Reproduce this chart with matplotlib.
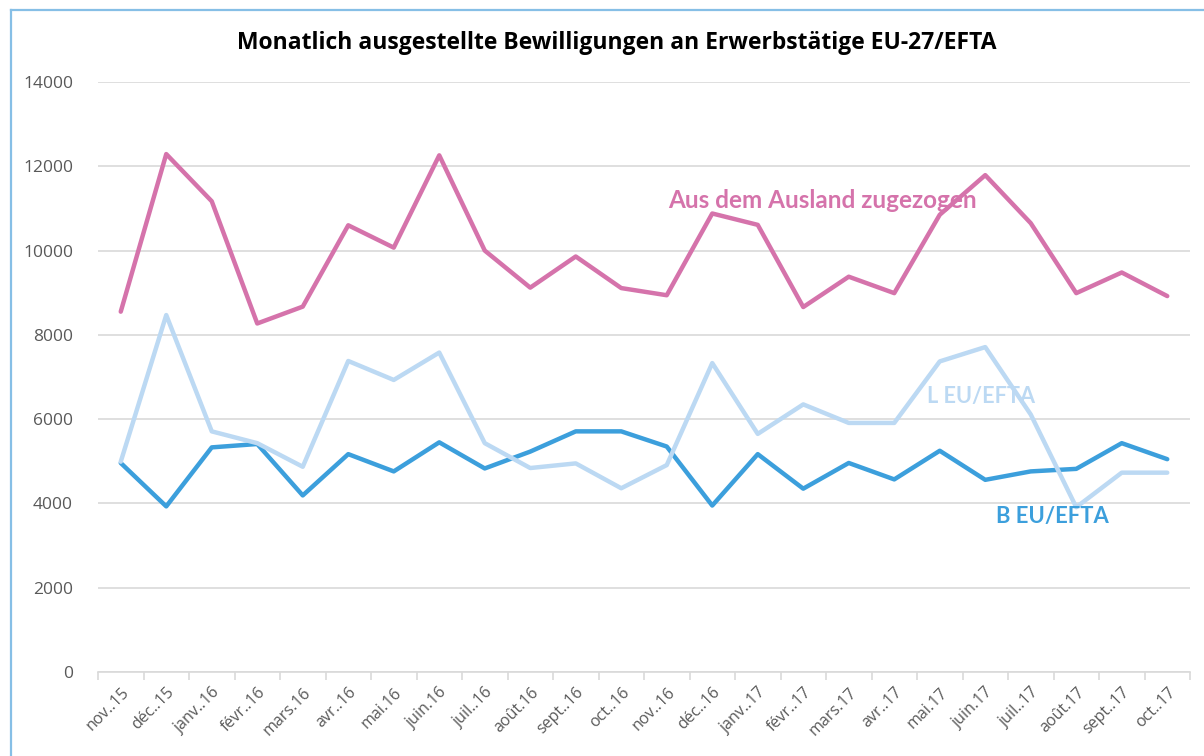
import matplotlib
matplotlib.use("Agg")
import matplotlib.pyplot as plt
from matplotlib.lines import Line2D

months = ["nov..15", "déc..15", "janv..16", "févr..16", "mars.16", "avr..16",
          "mai.16", "juin.16", "juil..16", "août.16", "sept..16", "oct..16",
          "nov..16", "déc..16", "janv..17", "févr..17", "mars.17", "avr..17",
          "mai.17", "juin.17", "juil..17", "août.17", "sept..17", "oct..17"]

ausland = [8550, 12290, 11170, 8270, 8670, 10600, 10070, 12260, 10000, 9120,
           9860, 9110, 8940, 10880, 10610, 8660, 9380, 8990, 10850, 11790,
           10650, 8990, 9480, 8920]
l_eu = [4990, 8470, 5710, 5430, 4870, 7380, 6930, 7580, 5430, 4840,
        4950, 4360, 4910, 7330, 5650, 6350, 5910, 5910, 7370, 7710,
        6110, 3910, 4730, 4730]
b_eu = [4960, 3930, 5330, 5410, 4190, 5170, 4760, 5450, 4830, 5230,
        5710, 5710, 5350, 3950, 5170, 4350, 4960, 4570, 5250, 4560,
        4760, 4820, 5430, 5050]

yticks = [0, 2000, 4000, 6000, 8000, 10000, 12000, 14000]

title = "Monatlich ausgestellte Bewilligungen an Erwerbstätige EU-27/EFTA"

c_pink = "#D573AB"
c_light = "#BCD9F3"
c_blue = "#3C9FDC"
c_grid = "#D9D9D9"
c_text = "#595959"

W, H = 1204, 756
fig = plt.figure(figsize=(W / 100, H / 100), dpi=100)
fig.patch.set_facecolor("white")

ax = fig.add_axes([98 / W, (H - 672) / H, (1190 - 98) / W, (672 - 82) / H])
x = list(range(len(months)))

common = dict(lw=3.2, solid_joinstyle="round", solid_capstyle="round")
ax.plot(x, b_eu, color=c_blue, zorder=3, **common)
ax.plot(x, l_eu, color=c_light, zorder=4, **common)
ax.plot(x, ausland, color=c_pink, zorder=5, **common)

ax.set_xlim(-0.5, len(months) - 0.5)
ax.set_ylim(0, 14000)
ax.set_yticks(yticks)
ax.set_yticklabels([str(v) for v in yticks], fontsize=12.5, color=c_text,
                   family="Open Sans")
ax.yaxis.grid(True, color=c_grid, lw=1.2, zorder=0)
ax.set_axisbelow(True)
ax.tick_params(axis="y", length=0, pad=18)

# category ticks between categories
ax.set_xticks([i - 0.5 for i in range(len(months) + 1)], minor=True)
ax.set_xticks(x)
ax.set_xticklabels(months, rotation=45, ha="right", rotation_mode="anchor",
                   fontsize=11.5, color=c_text, family="Open Sans")
ax.tick_params(axis="x", which="major", length=0, pad=9)
ax.tick_params(axis="x", which="minor", length=6, width=1.2, color=c_grid)

for s in ["top", "right", "left"]:
    ax.spines[s].set_visible(False)
ax.spines["bottom"].set_color(c_grid)
ax.spines["bottom"].set_linewidth(1.2)

fig.text(617 / W, 1 - 43 / H, title, ha="center", va="center",
         fontsize=16.5, fontweight="bold", color="black", family="Open Sans")

fig.text(668 / W, 1 - 200 / H, "Aus dem Ausland zugezogen", ha="left",
         va="center", fontsize=17.5, fontweight="bold", color=c_pink,
         family="Lato")
fig.text(927 / W, 1 - 396 / H, "L EU/EFTA", ha="left", va="center",
         fontsize=15.6, fontweight="bold", color=c_light, family="Lato",
         zorder=6)
fig.text(996 / W, 1 - 516 / H, "B EU/EFTA", ha="left", va="center",
         fontsize=15.8, fontweight="bold", color=c_blue, family="Lato")

# chart frame border (left and top)
fig.add_artist(Line2D([11 / W, 11 / W], [0, 1 - 10 / H], color="#86BFE6",
                      lw=1.6, transform=fig.transFigure))
fig.add_artist(Line2D([11 / W, 1], [1 - 10 / H, 1 - 10 / H], color="#86BFE6",
                      lw=1.6, transform=fig.transFigure))

fig.savefig("out.png", dpi=100)
